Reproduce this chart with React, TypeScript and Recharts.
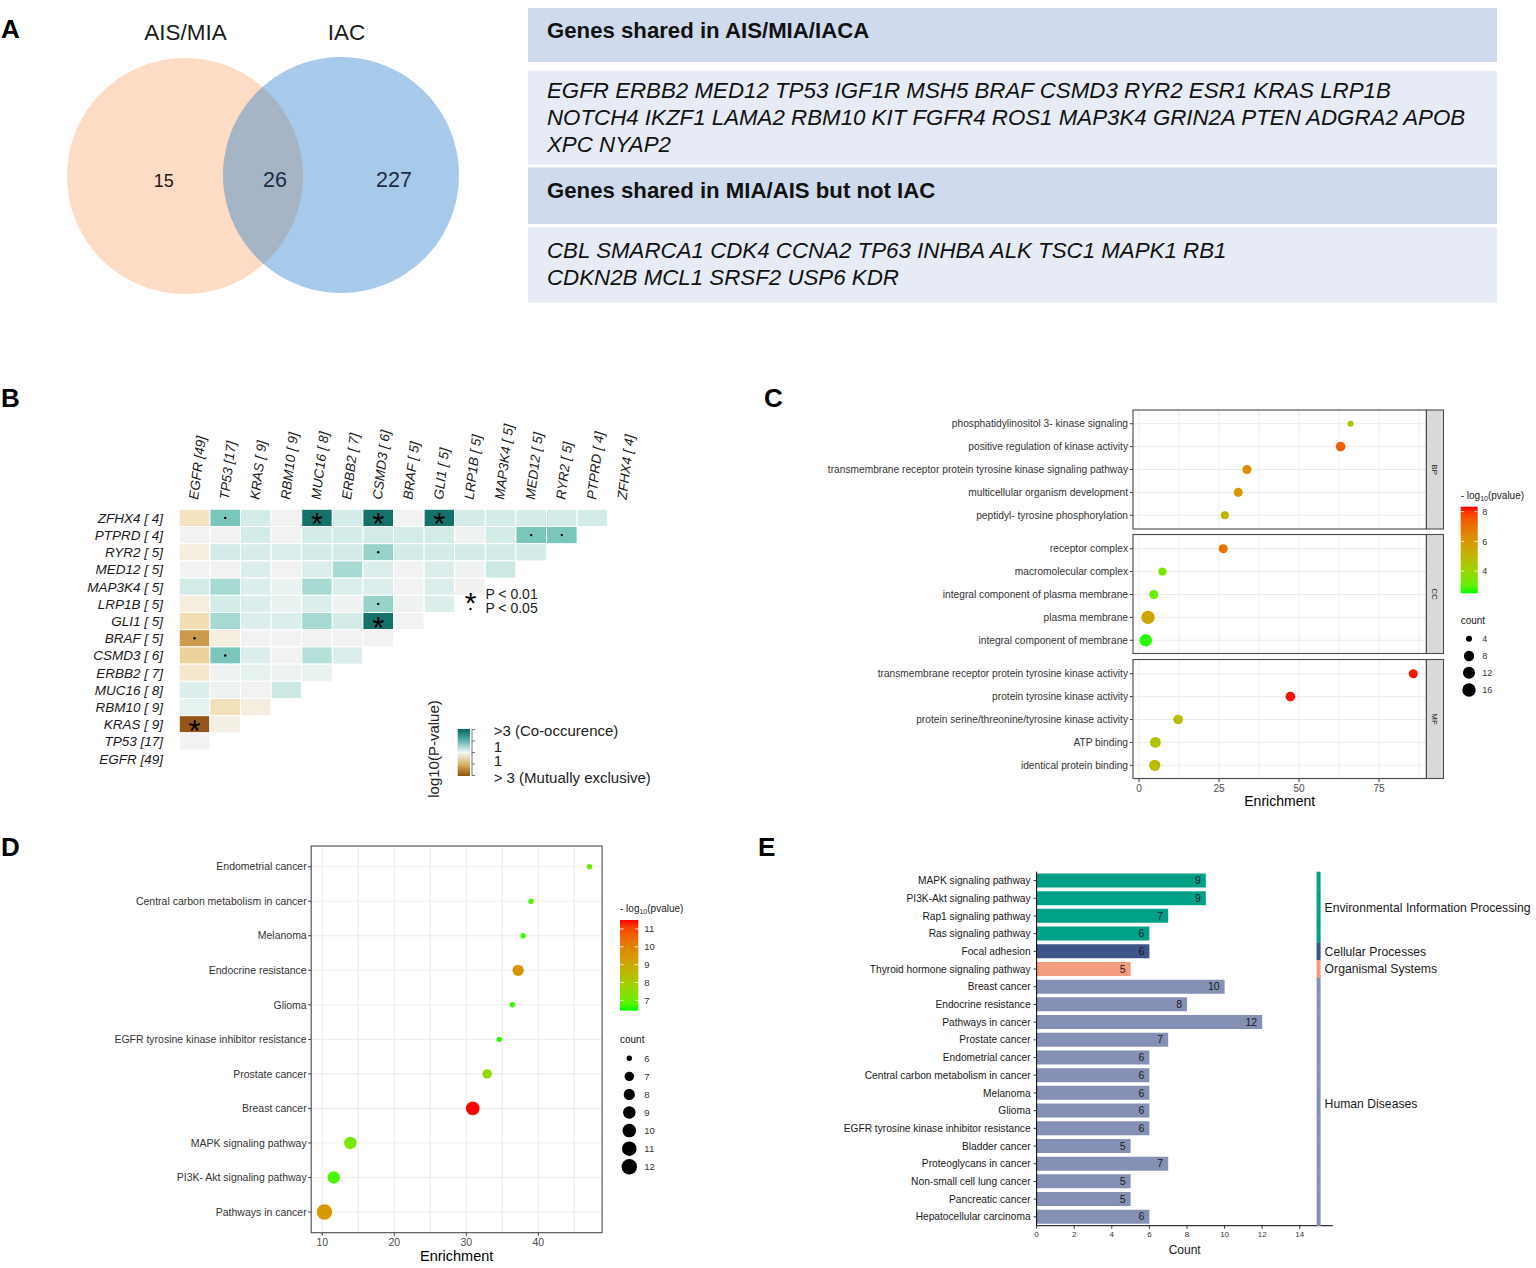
import React from 'react';
import { PieChart, Pie, Cell, ScatterChart, Scatter, XAxis, YAxis, CartesianGrid, BarChart, Bar, LabelList } from 'recharts';

const FONT = '"Liberation Sans", Arial, Helvetica, sans-serif';

// ---------------- DATA ----------------
// Panel A
const vennSetNames = ['AIS/MIA', 'IAC'];
const vennRegionCounts = [15, 26, 227]; // only AIS/MIA, shared, only IAC
const geneBoxTitles = ['Genes shared in AIS/MIA/IACA', 'Genes shared in MIA/AIS but not IAC'];
const sharedGeneLines = [
  'EGFR ERBB2 MED12 TP53 IGF1R MSH5 BRAF CSMD3 RYR2 ESR1 KRAS LRP1B',
  'NOTCH4 IKZF1 LAMA2 RBM10 KIT FGFR4 ROS1 MAP3K4 GRIN2A PTEN ADGRA2 APOB',
  'XPC NYAP2',
];
const earlyOnlyGeneLines = [
  'CBL SMARCA1 CDK4 CCNA2 TP63 INHBA ALK TSC1 MAPK1 RB1',
  'CDKN2B MCL1 SRSF2 USP6 KDR',
];

// Panel B
const heatGenes = ['EGFR', 'TP53', 'KRAS', 'RBM10', 'MUC16', 'ERBB2', 'CSMD3', 'BRAF', 'GLI1', 'LRP1B', 'MAP3K4', 'MED12', 'RYR2', 'PTPRD', 'ZFHX4'];
const heatGeneCounts = [49, 17, 9, 9, 8, 7, 6, 5, 5, 5, 5, 5, 5, 4, 4];
// rows from top (ZFHX4) to bottom (EGFR); signed -log10(p): + co-occurrence, - mutual exclusivity
const heatScores = [
  [-0.4, 1.6, 0.4, 0, 3, 0.4, 3, 0, 3, 0.4, 0.4, 0.4, 0.4, 0.4],
  [0, 0, 0.4, 0, 0.4, 0.4, 0.4, 0.4, 0.4, 0.05, 0.4, 1.6, 1.6],
  [-0.15, 0.4, 0.35, 0.3, 0.4, 0.4, 1.2, 0.4, 0.4, 0.4, 0.4, 0.4],
  [0, 0, 0.3, 0, 0.3, 1.0, 0.3, 0, 0.3, 0.02, 0.5],
  [0.4, 1.0, 0.3, 0.1, 1.0, 0.3, 0.3, 0, 0.3, -0.02],
  [-0.15, 0.4, 0.3, 0.1, 0.3, 0.05, 1.2, 0.05, 0.3],
  [-0.5, 1.0, 0.3, 0.3, 1.0, 0.4, 3, 0],
  [-1.8, -0.15, 0, 0, 0, 0, 0],
  [-0.7, 1.6, 0.3, 0, 0.8, 0.3],
  [-0.3, 0.05, 0.15, 0.05, 0.1],
  [0.3, 0.05, 0, 0.5],
  [0.15, -0.45, -0.15],
  [-3, -0.1],
  [0],
  [],
];
// '*' p<0.01, '.' p<0.05, '_' none
const heatSignif = [
  '_.__*_*_*_____',
  '___________..',
  '______._____',
  '___________',
  '__________',
  '______.__',
  '______*_',
  '.______',
  '_.____',
  '_____',
  '____',
  '___',
  '*_',
  '_',
  '',
];

// Panel C
const bpRows = [
  { term: 'phosphatidylinositol 3- kinase signaling', enrichment: 66.1, logp: 4.4, count: 4 },
  { term: 'positive regulation of kinase activity', enrichment: 63.0, logp: 7.4, count: 7 },
  { term: 'transmembrane receptor protein tyrosine kinase signaling pathway', enrichment: 33.7, logp: 6.3, count: 6 },
  { term: 'multicellular organism development', enrichment: 31.0, logp: 6.0, count: 6 },
  { term: 'peptidyl- tyrosine phosphorylation', enrichment: 26.8, logp: 5.0, count: 5 },
];
const ccRows = [
  { term: 'receptor complex', enrichment: 26.3, logp: 7.0, count: 6 },
  { term: 'macromolecular complex', enrichment: 7.3, logp: 3.4, count: 5 },
  { term: 'integral component of plasma membrane', enrichment: 4.6, logp: 3.15, count: 6 },
  { term: 'plasma membrane', enrichment: 2.8, logp: 5.6, count: 16 },
  { term: 'integral component of membrane', enrichment: 2.1, logp: 2.6, count: 13 },
];
const mfRows = [
  { term: 'transmembrane receptor protein tyrosine kinase activity', enrichment: 85.7, logp: 8.25, count: 6 },
  { term: 'protein tyrosine kinase activity', enrichment: 47.3, logp: 8.3, count: 7 },
  { term: 'protein serine/threonine/tyrosine kinase activity', enrichment: 12.2, logp: 4.8, count: 7 },
  { term: 'ATP binding', enrichment: 5.1, logp: 4.6, count: 9 },
  { term: 'identical protein binding', enrichment: 4.9, logp: 4.9, count: 10 },
];
const goFacetNames = ['BP', 'CC', 'MF'];

// Panel D
const keggDotTerms = ['Endometrial cancer', 'Central carbon metabolism in cancer', 'Melanoma', 'Endocrine resistance', 'Glioma', 'EGFR tyrosine kinase inhibitor resistance', 'Prostate cancer', 'Breast cancer', 'MAPK signaling pathway', 'PI3K- Akt signaling pathway', 'Pathways in cancer'];
const keggDotEnrichment = [47.1, 39.0, 37.9, 37.2, 36.4, 34.6, 32.9, 30.9, 13.9, 11.6, 10.3];
const keggDotLogP = [7.0, 6.7, 6.6, 9.6, 6.6, 6.5, 7.6, 11.5, 7.2, 6.7, 9.4];
const keggDotCount = [6, 6, 6, 8, 6, 6, 7, 10, 9, 9, 12];

// Panel E
const keggBarNames = ['MAPK signaling pathway', 'PI3K-Akt signaling pathway', 'Rap1 signaling pathway', 'Ras signaling pathway', 'Focal adhesion', 'Thyroid hormone signaling pathway', 'Breast cancer', 'Endocrine resistance', 'Pathways in cancer', 'Prostate cancer', 'Endometrial cancer', 'Central carbon metabolism in cancer', 'Melanoma', 'Glioma', 'EGFR tyrosine kinase inhibitor resistance', 'Bladder cancer', 'Proteoglycans in cancer', 'Non-small cell lung cancer', 'Pancreatic cancer', 'Hepatocellular carcinoma'];
const keggBarCounts = [9, 9, 7, 6, 6, 5, 10, 8, 12, 7, 6, 6, 6, 6, 6, 5, 7, 5, 5, 6];
const keggGroupNames = ['Environmental Information Processing', 'Cellular Processes', 'Organismal Systems', 'Human Diseases'];
const keggBarGroup = [0, 0, 0, 0, 1, 2, 3, 3, 3, 3, 3, 3, 3, 3, 3, 3, 3, 3, 3, 3];
const keggGroupColors = ['#00A087', '#3C5488', '#F39B7F', '#8491B4'];

// ---------------- COLOUR HELPERS ----------------
const toLin = (c: number) => { c /= 255; return c <= 0.04045 ? c / 12.92 : Math.pow((c + 0.055) / 1.055, 2.4); };
const fromLin = (c: number) => { const v = c <= 0.0031308 ? 12.92 * c : 1.055 * Math.pow(Math.max(c, 0), 1 / 2.4) - 0.055; return Math.round(Math.min(1, Math.max(0, v)) * 255); };
const rgb2lab = (r: number, g: number, b: number) => {
  const R = toLin(r), G = toLin(g), B = toLin(b);
  const X = (0.4124564 * R + 0.3575761 * G + 0.1804375 * B) / 0.95047;
  const Y = 0.2126729 * R + 0.7151522 * G + 0.072175 * B;
  const Z = (0.0193339 * R + 0.119192 * G + 0.9503041 * B) / 1.08883;
  const f = (t: number) => (t > 0.008856 ? Math.cbrt(t) : 7.787 * t + 16 / 116);
  const fx = f(X), fy = f(Y), fz = f(Z);
  return [116 * fy - 16, 500 * (fx - fy), 200 * (fy - fz)];
};
const lab2rgb = (L: number, a: number, b: number) => {
  const fy = (L + 16) / 116, fx = fy + a / 500, fz = fy - b / 200;
  const inv = (t: number) => (t * t * t > 0.008856 ? t * t * t : (t - 16 / 116) / 7.787);
  const X = inv(fx) * 0.95047, Y = inv(fy), Z = inv(fz) * 1.08883;
  const R = 3.2404542 * X - 1.5371385 * Y - 0.4985314 * Z;
  const G = -0.969266 * X + 1.8760108 * Y + 0.041556 * Z;
  const B = 0.0556434 * X - 0.2040259 * Y + 1.0572252 * Z;
  return `rgb(${fromLin(R)},${fromLin(G)},${fromLin(B)})`;
};
const LAB_GREEN = rgb2lab(0, 255, 0);
const LAB_RED = rgb2lab(255, 0, 0);
const greenRed = (t: number) => {
  const u = Math.max(0, Math.min(1, t));
  return lab2rgb(
    LAB_GREEN[0] + (LAB_RED[0] - LAB_GREEN[0]) * u,
    LAB_GREEN[1] + (LAB_RED[1] - LAB_GREEN[1]) * u,
    LAB_GREEN[2] + (LAB_RED[2] - LAB_GREEN[2]) * u,
  );
};
const hex = (h: string) => [parseInt(h.slice(1, 3), 16), parseInt(h.slice(3, 5), 16), parseInt(h.slice(5, 7), 16)];
const heatStops: [number, string][] = [
  [-3, '#96561A'], [-1.8, '#CB9A4C'], [-0.8, '#E8CB8E'], [-0.4, '#F3E3C1'], [-0.15, '#F5EDDE'], [0, '#F2F2F2'],
  [0.15, '#E6F2F0'], [0.4, '#D4ECE8'], [1, '#A6DAD2'], [1.6, '#7BC6BB'], [3, '#14726A'],
];
const heatColor = (v: number) => {
  if (v <= heatStops[0][0]) return heatStops[0][1];
  for (let i = 1; i < heatStops.length; i++) {
    if (v <= heatStops[i][0]) {
      const [v0, c0] = heatStops[i - 1];
      const [v1, c1] = heatStops[i];
      const t = (v - v0) / (v1 - v0);
      const a = hex(c0), b = hex(c1);
      return `rgb(${Math.round(a[0] + (b[0] - a[0]) * t)},${Math.round(a[1] + (b[1] - a[1]) * t)},${Math.round(a[2] + (b[2] - a[2]) * t)})`;
    }
  }
  return heatStops[heatStops.length - 1][1];
};

// ---------------- LAYOUT ----------------
const Abs = ({ left, top, children }: any) => <div style={{ position: 'absolute', left, top }}>{children}</div>;

const makeXTick = (majors: number[], fontSize: number, baseDy: number, tickLen: number, margin: number) => (p: any) => {
  const v = p.payload.value;
  if (!majors.includes(v)) return <g />;
  return (
    <g>
      <line x1={p.x} x2={p.x} y1={p.y - margin - tickLen} y2={p.y - margin} stroke="#333" strokeWidth={1} />
      <text x={p.x} y={p.y + baseDy} textAnchor="middle" fontSize={fontSize} fill="#4D4D4D" fontFamily={FONT}>{v}</text>
    </g>
  );
};

// ---------- Panel A: Venn ----------
function Venn() {
  return (
    <PieChart width={520} height={310} margin={{ top: 0, right: 0, bottom: 0, left: 0 }}>
      <Pie data={[{ name: vennSetNames[0], value: vennRegionCounts[0] + vennRegionCounts[1] }]} dataKey="value" cx={185} cy={176} outerRadius={118} innerRadius={0} stroke="none" isAnimationActive={false} label={false}>
        <Cell fill="#FCDCC4" />
      </Pie>
      <Pie data={[{ name: vennSetNames[1], value: vennRegionCounts[2] + vennRegionCounts[1] }]} dataKey="value" cx={341} cy={175} outerRadius={118} innerRadius={0} stroke="none" isAnimationActive={false} label={false}>
        <Cell fill="rgb(38,122,202)" fillOpacity={0.4} />
      </Pie>
    </PieChart>
  );
}

// ---------- Panel B: heatmap ----------
const HM = { left: 179.3, top: 109.3, plotW: 459, plotH: 258, width: 660, height: 380 };
const NG = heatGenes.length;
const CW = HM.plotW / NG;
const CH = HM.plotH / NG;
const fmtGene = (g: string, c: number) => `${g} [${c < 10 ? ' ' + c : c}]`;
const heatColLabels = heatGenes.map((g, i) => fmtGene(g, heatGeneCounts[i]));
const heatRowLabels = [...heatColLabels].reverse();
const heatCells: any[] = [];
heatScores.forEach((row, r) => row.forEach((v, c) => heatCells.push({ x: c, y: r, v, sig: heatSignif[r][c] })));

const HeatCellShape = (p: any) => {
  const { cx, cy, payload } = p;
  return (
    <g>
      <rect x={cx - CW / 2} y={cy - CH / 2} width={CW} height={CH} fill={heatColor(payload.v)} stroke="#fff" strokeWidth={1} />
      {payload.sig === '*' && <text x={cx} y={cy + 17.5} textAnchor="middle" fontSize={31} fill="#000" fontFamily={FONT}>*</text>}
      {payload.sig === '.' && <circle cx={cx} cy={cy} r={1.2} fill="#000" />}
    </g>
  );
};

function Heatmap() {
  const idx = heatGenes.map((_, i) => i);
  return (
    <ScatterChart width={HM.width} height={HM.height} margin={{ top: 0, left: 0, right: HM.width - HM.left - HM.plotW, bottom: HM.height - HM.top - HM.plotH }}>
      <XAxis type="number" dataKey="x" orientation="top" domain={[-0.5, NG - 0.5]} ticks={idx} height={HM.top} axisLine={false} tickLine={false} tickSize={0} tickMargin={9.3} interval={0} allowDataOverflow
        tick={(p: any) => (
          <text transform={`translate(${p.x + 3.5},${p.y}) rotate(-83)`} fontSize={13.5} fontStyle="italic" fill="#1a1a1a" fontFamily={FONT}>{heatColLabels[p.payload.value]}</text>
        )} />
      <YAxis type="number" dataKey="y" reversed domain={[-0.5, NG - 0.5]} ticks={idx} width={HM.left} axisLine={false} tickLine={false} tickSize={0} tickMargin={16.3} interval={0} allowDataOverflow
        tick={(p: any) => (
          <text x={p.x} y={p.y + 4.9} textAnchor="end" fontSize={13.5} fontStyle="italic" fill="#1a1a1a" fontFamily={FONT}>{heatRowLabels[p.payload.value]}</text>
        )} />
      <Scatter data={heatCells} isAnimationActive={false} shape={(p: any) => <HeatCellShape {...p} />} />
    </ScatterChart>
  );
}

// ---------- Panel C: GO dot plot ----------
const C_CHART_LEFT = 820, C_LEFT = 1133, C_RIGHT = 1426.4;
const C_TOPS = [410, 534.5, 659.5];
const C_H = 119;
const C_XDOM = [-1.9, 89.8];
const C_XTICKS = [0, 12.5, 25, 37.5, 50, 62.5, 75, 87.5];
const C_LO = 2.51, C_HI = 8.33;
const cRadius = (c: number) => 3 + 3.7 * Math.sqrt(Math.max(0, (c - 4) / 12));

function GoFacet({ rows, top, withAxis }: any) {
  const n = rows.length;
  const data = rows.map((r: any, i: number) => ({ ...r, x: r.enrichment, y: n - i }));
  return (
    <Abs left={C_CHART_LEFT} top={top}>
      <ScatterChart width={C_RIGHT - C_CHART_LEFT} height={C_H + (withAxis ? 30 : 0)} margin={{ top: 0, right: 0, bottom: 0, left: 0 }}>
        <CartesianGrid stroke="#EBEBEB" strokeWidth={1} />
        <XAxis type="number" dataKey="x" domain={C_XDOM} ticks={C_XTICKS} allowDataOverflow interval={0} hide={!withAxis} height={30} axisLine={false} tickLine={false} tickSize={3} tickMargin={2}
          tick={makeXTick([0, 25, 50, 75], 10, 7.8, 3, 2)} />
        <YAxis type="number" dataKey="y" domain={[0.4, n + 0.6]} ticks={data.map((d: any) => d.y)} allowDataOverflow interval={0} width={C_LEFT - C_CHART_LEFT} axisLine={false} tickLine={{ stroke: '#333' }} tickSize={3} tickMargin={2}
          tick={(p: any) => (
            <text x={p.x} y={p.y + 3.6} textAnchor="end" fontSize={10.2} fill="#333" fontFamily={FONT}>{rows[n - Math.round(p.payload.value)].term}</text>
          )} />
        <Scatter data={data} isAnimationActive={false}
          shape={(p: any) => <circle cx={p.cx} cy={p.cy} r={cRadius(p.payload.count)} fill={greenRed((p.payload.logp - C_LO) / (C_HI - C_LO))} />} />
      </ScatterChart>
    </Abs>
  );
}

// ---------- Panel D: KEGG dot plot ----------
const D = { left: 311.2, plotW: 290.9, plotH: 386.7, top: 846 };
const D_XDOM = [8.46, 48.86];
const D_LO = 6.42, D_HI = 11.5;
const dRadius = (c: number) => 2.7 + 5 * Math.sqrt(Math.max(0, (c - 6) / 6));

function KeggDots() {
  const n = keggDotTerms.length;
  const data = keggDotTerms.map((t, i) => ({ term: t, x: keggDotEnrichment[i], y: n - i, logp: keggDotLogP[i], count: keggDotCount[i] }));
  return (
    <ScatterChart width={D.left + D.plotW} height={D.plotH + 30} margin={{ top: 0, right: 0, bottom: 0, left: 0 }}>
      <CartesianGrid stroke="#EBEBEB" strokeWidth={1} />
      <XAxis type="number" dataKey="x" domain={D_XDOM} ticks={[10, 15, 20, 25, 30, 35, 40, 45]} allowDataOverflow interval={0} height={30} axisLine={false} tickLine={false} tickSize={3} tickMargin={2}
        tick={makeXTick([10, 20, 30, 40], 10.5, 8, 3, 2)} />
      <YAxis type="number" dataKey="y" domain={[0.4, n + 0.6]} ticks={data.map((d) => d.y)} allowDataOverflow interval={0} width={D.left} axisLine={false} tickLine={{ stroke: '#333' }} tickSize={3} tickMargin={1.5}
        tick={(p: any) => (
          <text x={p.x} y={p.y + 3.7} textAnchor="end" fontSize={10.5} fill="#333" fontFamily={FONT}>{keggDotTerms[n - Math.round(p.payload.value)]}</text>
        )} />
      <Scatter data={data} isAnimationActive={false}
        shape={(p: any) => <circle cx={p.cx} cy={p.cy} r={dRadius(p.payload.count)} fill={greenRed((p.payload.logp - D_LO) / (D_HI - D_LO))} />} />
    </ScatterChart>
  );
}

// ---------- Panel E: KEGG bar chart ----------
const E = { left: 196.6, plotW: 296.1, top: 11.7, plotH: 354, axisH: 24 };
const E_XDOM = [0, 15.75];
const STRIPE_X = 15;
const keggBars = keggBarNames.map((name, i) => ({ name, count: keggBarCounts[i], group: keggBarGroup[i] }));

function KeggBars() {
  return (
    <BarChart layout="vertical" width={E.left + E.plotW} height={E.top + E.plotH + E.axisH} data={keggBars} margin={{ top: E.top, right: 0, bottom: 0, left: 0 }} barCategoryGap="10%">
      <XAxis type="number" dataKey="count" domain={E_XDOM} ticks={[0, 2, 4, 6, 8, 10, 12, 14]} interval={0} height={E.axisH} axisLine={{ stroke: '#000' }} tickLine={{ stroke: '#333' }} tickSize={3} tickMargin={2}
        tick={(p: any) => <text x={p.x} y={p.y + 6} textAnchor="middle" fontSize={8} fill="#333" fontFamily={FONT}>{p.payload.value}</text>} />
      <YAxis type="category" dataKey="name" width={E.left} interval={0} axisLine={{ stroke: '#000' }} tickLine={{ stroke: '#333' }} tickSize={3} tickMargin={3}
        tick={(p: any) => <text x={p.x} y={p.y + 3.6} textAnchor="end" fontSize={10.2} fill="#1a1a1a" fontFamily={FONT}>{p.payload.value}</text>} />
      <Bar dataKey="count" isAnimationActive={false}>
        {keggBars.map((d, i) => <Cell key={i} fill={keggGroupColors[d.group]} />)}
        <LabelList dataKey="count" position="insideRight" offset={5} fill="#1a1a1a" fontSize={10.5} fontFamily={FONT} />
      </Bar>
    </BarChart>
  );
}

const StripeShape = (p: any) => {
  const { x, y, width, height, index } = p;
  const g = keggBarGroup[index];
  const first = index === 0 || keggBarGroup[index - 1] !== g;
  const size = keggBarGroup.filter((k) => k === g).length;
  return (
    <g>
      <rect x={x + width - 2} y={y} width={4} height={height} fill={keggGroupColors[g]} />
      {first && (
        <text x={x + width + 6} y={y + (size * height) / 2 + 4.3} fontSize={12.2} fill="#1a1a1a" fontFamily={FONT}>{keggGroupNames[g]}</text>
      )}
    </g>
  );
};

function KeggStripe() {
  const W = 696;
  return (
    <BarChart layout="vertical" width={W} height={E.top + E.plotH + E.axisH} data={keggBars} margin={{ top: E.top, right: W - E.left - E.plotW, bottom: E.axisH, left: E.left }} barCategoryGap={0} style={{ overflow: 'visible' }}>
      <XAxis type="number" domain={E_XDOM} hide />
      <YAxis type="category" dataKey="name" hide />
      <Bar dataKey={() => STRIPE_X} isAnimationActive={false} shape={(p: any) => <StripeShape {...p} />} />
    </BarChart>
  );
}

// ---------- Overlay (texts, legends, borders) ----------
function GradBar({ id, x, y, w, h, stops }: any) {
  return (
    <g>
      <defs>
        <linearGradient id={id} x1="0" y1="0" x2="0" y2="1">
          {stops.map((s: any, i: number) => <stop key={i} offset={s[0]} stopColor={s[1]} />)}
        </linearGradient>
      </defs>
      <rect x={x} y={y} width={w} height={h} fill={`url(#${id})`} />
    </g>
  );
}

function LogTitle({ x, y }: any) {
  return (
    <text x={x} y={y} fontSize={10} fill="#1a1a1a" fontFamily={FONT}>
      - log<tspan fontSize={7} dy={2.5}>10</tspan><tspan dy={-2.5}>(pvalue)</tspan>
    </text>
  );
}

function Overlay() {
  const grStops = (n: number) => Array.from({ length: n + 1 }, (_, k) => [k / n, greenRed(1 - k / n)]);
  const cb = { x: 1460.7, y: 506.7, w: 17, h: 86.6 };
  const cy = (v: number) => cb.y + cb.h - ((v - C_LO) / (C_HI - C_LO)) * cb.h;
  const db = { x: 620, y: 920, w: 18.3, h: 90.7 };
  const dy = (v: number) => db.y + db.h - ((v - D_LO) / (D_HI - D_LO)) * db.h;
  const letters: [string, number, number][] = [['A', 1, 37.5], ['B', 1, 407], ['C', 764, 407], ['D', 1, 856], ['E', 758, 856]];
  return (
    <svg width={1536} height={1268} style={{ position: 'absolute', left: 0, top: 0, pointerEvents: 'none' }} fontFamily={FONT}>
      {letters.map(([t, x, y]) => <text key={t} x={x} y={y} fontSize={26} fontWeight="bold" fill="#000">{t}</text>)}

      {/* Venn texts */}
      <text x={185.5} y={40} textAnchor="middle" fontSize={22.5} fill="#1a1a1a">{vennSetNames[0]}</text>
      <text x={346.5} y={40} textAnchor="middle" fontSize={22.5} fill="#1a1a1a">{vennSetNames[1]}</text>
      <text x={163.7} y={186.7} textAnchor="middle" fontSize={18} fill="#1a1a1a">{vennRegionCounts[0]}</text>
      <text x={275} y={187.3} textAnchor="middle" fontSize={21.5} fill="#1E2B44">{vennRegionCounts[1]}</text>
      <text x={394} y={187.3} textAnchor="middle" fontSize={21.5} fill="#1E2B44">{vennRegionCounts[2]}</text>

      {/* Gene boxes */}
      <rect x={528} y={8} width={969} height={54} fill="#CFDBED" />
      <rect x={528} y={70.5} width={969} height={94} fill="#E6EBF5" />
      <rect x={528} y={167.5} width={969} height={56.5} fill="#CFDBED" />
      <rect x={528} y={227.5} width={969} height={75} fill="#E6EBF5" />
      <text x={547} y={38.3} fontSize={22.2} fontWeight="bold" fill="#111">{geneBoxTitles[0]}</text>
      {sharedGeneLines.map((l, i) => <text key={i} x={547} y={98.3 + i * 26.8} fontSize={22.3} fontStyle="italic" fill="#111">{l}</text>)}
      <text x={547} y={198.3} fontSize={22.2} fontWeight="bold" fill="#111">{geneBoxTitles[1]}</text>
      {earlyOnlyGeneLines.map((l, i) => <text key={i} x={547} y={257.7 + i * 27.2} fontSize={22.3} fontStyle="italic" fill="#111">{l}</text>)}

      {/* B legends */}
      <text x={470.5} y={613} textAnchor="middle" fontSize={30} fill="#000">*</text>
      <text x={485.4} y={599} fontSize={14} fill="#222">P &lt; 0.01</text>
      <circle cx={470.5} cy={609} r={1.2} fill="#000" />
      <text x={485.4} y={612.8} fontSize={14} fill="#222">P &lt; 0.05</text>
      <GradBar id="gradB" x={457.7} y={729} w={12.3} h={47} stops={[[0, '#01665E'], [0.25, '#5AB4AC'], [0.5, '#F5F5F5'], [0.75, '#D8B365'], [1, '#8C510A']]} />
      <line x1={472} x2={472} y1={729.5} y2={775.5} stroke="#555" strokeWidth={0.8} />
      {[729.5, 741, 752.5, 764, 775.5].map((y, i) => <line key={i} x1={472} x2={475} y1={y} y2={y} stroke="#555" strokeWidth={0.8} />)}
      <text x={493.7} y={735.5} fontSize={15} fill="#222">&gt;3 (Co-occurence)</text>
      <text x={493.7} y={752} fontSize={15} fill="#222">1</text>
      <text x={493.7} y={766} fontSize={15} fill="#222">1</text>
      <text x={493.7} y={782.8} fontSize={15} fill="#222">&gt; 3 (Mutually exclusive)</text>
      <text transform="translate(439,749) rotate(-90)" textAnchor="middle" fontSize={15} fill="#222">log10(P-value)</text>

      {/* C borders & strips */}
      {C_TOPS.map((t, i) => (
        <g key={i}>
          <rect x={C_LEFT} y={t} width={C_RIGHT - C_LEFT} height={C_H} fill="none" stroke="#4D4D4D" strokeWidth={1.1} />
          <rect x={C_RIGHT} y={t} width={17.1} height={C_H} fill="#D9D9D9" stroke="#4D4D4D" strokeWidth={1.1} />
          <text transform={`translate(${C_RIGHT + 5.5},${t + C_H / 2}) rotate(90)`} textAnchor="middle" fontSize={8} fill="#1a1a1a">{goFacetNames[i]}</text>
        </g>
      ))}
      <text x={(C_LEFT + C_RIGHT) / 2} y={806} textAnchor="middle" fontSize={14} fill="#000">Enrichment</text>
      <LogTitle x={1460.7} y={498.5} />
      <GradBar id="gradC" x={cb.x} y={cb.y} w={cb.w} h={cb.h} stops={grStops(12)} />
      {[8, 6, 4].map((v) => (
        <g key={v}>
          <line x1={cb.x} x2={cb.x + 3.4} y1={cy(v)} y2={cy(v)} stroke="#fff" strokeWidth={0.8} />
          <line x1={cb.x + cb.w - 3.4} x2={cb.x + cb.w} y1={cy(v)} y2={cy(v)} stroke="#fff" strokeWidth={0.8} />
          <text x={1482.3} y={cy(v) + 3.2} fontSize={9} fill="#333">{v}</text>
        </g>
      ))}
      <text x={1460.7} y={623.5} fontSize={10} fill="#1a1a1a">count</text>
      {[4, 8, 12, 16].map((c, i) => (
        <g key={c}>
          <circle cx={1469} cy={[638.7, 656, 672.7, 690][i]} r={cRadius(c)} fill="#000" />
          <text x={1482.3} y={[638.7, 656, 672.7, 690][i] + 3.2} fontSize={9} fill="#333">{c}</text>
        </g>
      ))}

      {/* D border & legends */}
      <rect x={D.left} y={D.top} width={D.plotW} height={D.plotH} fill="none" stroke="#4D4D4D" strokeWidth={1.1} />
      <text x={D.left + D.plotW / 2} y={1261} textAnchor="middle" fontSize={14.5} fill="#000">Enrichment</text>
      <LogTitle x={620} y={911.8} />
      <GradBar id="gradD" x={db.x} y={db.y} w={db.w} h={db.h} stops={grStops(12)} />
      {[11, 10, 9, 8, 7].map((v) => (
        <g key={v}>
          <line x1={db.x} x2={db.x + 3.6} y1={dy(v)} y2={dy(v)} stroke="#fff" strokeWidth={0.8} />
          <line x1={db.x + db.w - 3.6} x2={db.x + db.w} y1={dy(v)} y2={dy(v)} stroke="#fff" strokeWidth={0.8} />
          <text x={644.3} y={dy(v) + 3.3} fontSize={9.5} fill="#333">{v}</text>
        </g>
      ))}
      <text x={620} y={1042.5} fontSize={10} fill="#1a1a1a">count</text>
      {[6, 7, 8, 9, 10, 11, 12].map((c, i) => (
        <g key={c}>
          <circle cx={629.3} cy={1058.3 + i * 18.07} r={dRadius(c)} fill="#000" />
          <text x={644.3} y={1058.3 + i * 18.07 + 3.3} fontSize={9.5} fill="#333">{c}</text>
        </g>
      ))}

      {/* E axis title */}
      <text x={840 + E.left + E.plotW / 2} y={1253.5} textAnchor="middle" fontSize={12} fill="#1a1a1a">Count</text>
    </svg>
  );
}

export default function App() {
  return (
    <div style={{ position: 'absolute', left: 0, top: 0, width: 1536, height: 1268, background: '#fff', overflow: 'hidden', fontFamily: FONT }}>
      <Abs left={0} top={0}><Venn /></Abs>
      <Abs left={0} top={400}><Heatmap /></Abs>
      <GoFacet rows={bpRows} top={C_TOPS[0]} withAxis={false} />
      <GoFacet rows={ccRows} top={C_TOPS[1]} withAxis={false} />
      <GoFacet rows={mfRows} top={C_TOPS[2]} withAxis={true} />
      <Abs left={0} top={D.top}><KeggDots /></Abs>
      <Abs left={840} top={860}><KeggBars /></Abs>
      <Abs left={840} top={860}><KeggStripe /></Abs>
      <Overlay />
    </div>
  );
}
